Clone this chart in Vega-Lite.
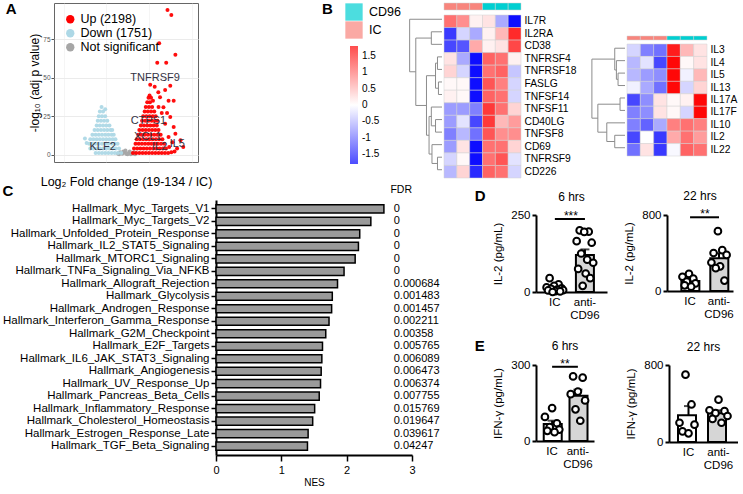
{
"$schema": "https://vega.github.io/schema/vega-lite/v6.json",
"padding": {"left": 2, "top": 1, "right": 0, "bottom": 0},
"config": {
  "font": "Liberation Sans",
  "view": {"stroke": null},
  "axis": {"labelFont": "Liberation Sans", "titleFont": "Liberation Sans", "titleFontWeight": "normal", "labelColor": "black", "titleColor": "black"},
  "legend": {"labelFont": "Liberation Sans", "labelColor": "black"},
  "title": {"font": "Liberation Sans", "color": "black"}
},
"datasets": {
  "volcano": [
    {"x":-0.45,"y":0.8,"g":"N"},{"x":-0.35,"y":1.5,"g":"N"},{"x":-0.25,"y":0.5,"g":"N"},{"x":-0.15,"y":1.2,"g":"N"},{"x":-0.05,"y":0.4,"g":"N"},{"x":0.05,"y":1.0,"g":"N"},{"x":0.15,"y":0.3,"g":"N"},{"x":0.25,"y":0.8,"g":"N"},{"x":0.35,"y":0.3,"g":"N"},{"x":-0.2,"y":2.0,"g":"N"},{"x":0.1,"y":2.0,"g":"N"},{"x":-0.4,"y":0.2,"g":"N"},{"x":0,"y":0.2,"g":"N"},{"x":0.3,"y":1.6,"g":"N"},{"x":-0.1,"y":2.6,"g":"N"},
    {"x":-1.5,"y":1,"g":"D"},{"x":-1.35,"y":1,"g":"D"},{"x":-1.2,"y":1,"g":"D"},{"x":-1.05,"y":1,"g":"D"},{"x":-0.9,"y":1,"g":"D"},{"x":-0.75,"y":1,"g":"D"},{"x":-0.6,"y":1,"g":"D"},{"x":-0.45,"y":1,"g":"D"},{"x":-0.3,"y":1,"g":"D"},
    {"x":-1.75,"y":4,"g":"D"},{"x":-1.6,"y":4,"g":"D"},{"x":-1.45,"y":4,"g":"D"},{"x":-1.3,"y":4,"g":"D"},{"x":-1.15,"y":4,"g":"D"},{"x":-1.0,"y":4,"g":"D"},{"x":-0.85,"y":4,"g":"D"},{"x":-0.7,"y":4,"g":"D"},{"x":-0.55,"y":4,"g":"D"},{"x":-0.4,"y":4,"g":"D"},
    {"x":-1.8,"y":7,"g":"D"},{"x":-1.65,"y":7,"g":"D"},{"x":-1.5,"y":7,"g":"D"},{"x":-1.35,"y":7,"g":"D"},{"x":-1.2,"y":7,"g":"D"},{"x":-1.05,"y":7,"g":"D"},{"x":-0.9,"y":7,"g":"D"},{"x":-0.75,"y":7,"g":"D"},{"x":-0.6,"y":7,"g":"D"},{"x":-0.47,"y":7,"g":"D"},
    {"x":-1.75,"y":10,"g":"D"},{"x":-1.6,"y":10,"g":"D"},{"x":-1.45,"y":10,"g":"D"},{"x":-1.3,"y":10,"g":"D"},{"x":-1.15,"y":10,"g":"D"},{"x":-1.0,"y":10,"g":"D"},{"x":-0.85,"y":10,"g":"D"},{"x":-0.7,"y":10,"g":"D"},{"x":-0.57,"y":10,"g":"D"},
    {"x":-1.65,"y":13,"g":"D"},{"x":-1.5,"y":13,"g":"D"},{"x":-1.35,"y":13,"g":"D"},{"x":-1.2,"y":13,"g":"D"},{"x":-1.05,"y":13,"g":"D"},{"x":-0.9,"y":13,"g":"D"},{"x":-0.75,"y":13,"g":"D"},{"x":-0.65,"y":13,"g":"D"},
    {"x":-1.55,"y":16,"g":"D"},{"x":-1.4,"y":16,"g":"D"},{"x":-1.25,"y":16,"g":"D"},{"x":-1.1,"y":16,"g":"D"},{"x":-0.95,"y":16,"g":"D"},{"x":-0.8,"y":16,"g":"D"},{"x":-0.72,"y":16,"g":"D"},
    {"x":-1.45,"y":19,"g":"D"},{"x":-1.3,"y":19,"g":"D"},{"x":-1.15,"y":19,"g":"D"},{"x":-1.0,"y":19,"g":"D"},{"x":-0.85,"y":19,"g":"D"},
    {"x":-1.4,"y":22,"g":"D"},{"x":-1.25,"y":22,"g":"D"},{"x":-1.1,"y":22,"g":"D"},{"x":-0.95,"y":22,"g":"D"},
    {"x":-1.35,"y":25,"g":"D"},{"x":-1.2,"y":25,"g":"D"},{"x":-1.05,"y":25,"g":"D"},
    {"x":-1.3,"y":28,"g":"D"},{"x":-1.15,"y":28,"g":"D"},{"x":-1.22,"y":31,"g":"D"},{"x":-2.0,"y":10.5,"g":"D"},{"x":-1.92,"y":7.5,"g":"D"},{"x":-1.05,"y":29.5,"g":"D"},
    {"x":0.25,"y":1,"g":"U"},{"x":0.4,"y":1,"g":"U"},{"x":0.55,"y":1,"g":"U"},{"x":0.7,"y":1,"g":"U"},{"x":0.85,"y":1,"g":"U"},{"x":1.0,"y":1,"g":"U"},{"x":1.15,"y":1,"g":"U"},{"x":1.3,"y":1,"g":"U"},{"x":1.45,"y":1,"g":"U"},{"x":1.6,"y":1,"g":"U"},{"x":1.75,"y":1,"g":"U"},{"x":1.9,"y":1,"g":"U"},{"x":2.05,"y":1.5,"g":"U"},
    {"x":0.3,"y":4,"g":"U"},{"x":0.45,"y":4,"g":"U"},{"x":0.6,"y":4,"g":"U"},{"x":0.75,"y":4,"g":"U"},{"x":0.9,"y":4,"g":"U"},{"x":1.05,"y":4,"g":"U"},{"x":1.2,"y":4,"g":"U"},{"x":1.35,"y":4,"g":"U"},{"x":1.5,"y":4,"g":"U"},{"x":1.65,"y":4,"g":"U"},{"x":1.8,"y":4,"g":"U"},
    {"x":0.37,"y":7,"g":"U"},{"x":0.52,"y":7,"g":"U"},{"x":0.67,"y":7,"g":"U"},{"x":0.82,"y":7,"g":"U"},{"x":0.97,"y":7,"g":"U"},{"x":1.12,"y":7,"g":"U"},{"x":1.27,"y":7,"g":"U"},{"x":1.42,"y":7,"g":"U"},{"x":1.57,"y":7,"g":"U"},{"x":1.72,"y":7,"g":"U"},
    {"x":0.43,"y":10,"g":"U"},{"x":0.58,"y":10,"g":"U"},{"x":0.73,"y":10,"g":"U"},{"x":0.88,"y":10,"g":"U"},{"x":1.03,"y":10,"g":"U"},{"x":1.18,"y":10,"g":"U"},{"x":1.33,"y":10,"g":"U"},{"x":1.48,"y":10,"g":"U"},{"x":1.63,"y":10,"g":"U"},
    {"x":0.5,"y":13,"g":"U"},{"x":0.65,"y":13,"g":"U"},{"x":0.8,"y":13,"g":"U"},{"x":0.95,"y":13,"g":"U"},{"x":1.1,"y":13,"g":"U"},{"x":1.25,"y":13,"g":"U"},{"x":1.4,"y":13,"g":"U"},{"x":1.55,"y":13,"g":"U"},
    {"x":0.55,"y":16,"g":"U"},{"x":0.7,"y":16,"g":"U"},{"x":0.85,"y":16,"g":"U"},{"x":1.0,"y":16,"g":"U"},{"x":1.15,"y":16,"g":"U"},{"x":1.3,"y":16,"g":"U"},{"x":1.45,"y":16,"g":"U"},
    {"x":0.62,"y":19,"g":"U"},{"x":0.77,"y":19,"g":"U"},{"x":0.92,"y":19,"g":"U"},{"x":1.07,"y":19,"g":"U"},{"x":1.22,"y":19,"g":"U"},{"x":1.37,"y":19,"g":"U"},
    {"x":0.68,"y":22,"g":"U"},{"x":0.83,"y":22,"g":"U"},{"x":0.98,"y":22,"g":"U"},{"x":1.13,"y":22,"g":"U"},{"x":1.28,"y":22,"g":"U"},{"x":1.4,"y":22,"g":"U"},
    {"x":0.73,"y":25,"g":"U"},{"x":0.88,"y":25,"g":"U"},{"x":1.03,"y":25,"g":"U"},{"x":1.18,"y":25,"g":"U"},{"x":1.32,"y":25,"g":"U"},
    {"x":0.8,"y":28,"g":"U"},{"x":0.95,"y":28,"g":"U"},{"x":1.1,"y":28,"g":"U"},{"x":1.25,"y":28,"g":"U"},
    {"x":0.85,"y":31,"g":"U"},{"x":1.0,"y":31,"g":"U"},{"x":1.15,"y":31,"g":"U"},{"x":0.92,"y":34,"g":"U"},{"x":1.05,"y":34,"g":"U"},{"x":0.98,"y":37,"g":"U"},{"x":1.1,"y":37,"g":"U"},
    {"x":1.87,"y":94,"g":"U"},{"x":2.05,"y":90.8,"g":"U"},{"x":1.48,"y":72.4,"g":"U"},{"x":2.24,"y":64.9,"g":"U"},{"x":1.39,"y":59.7,"g":"U"},{"x":1.81,"y":59.7,"g":"U"},{"x":1.06,"y":45.5,"g":"U"},{"x":1.27,"y":44.2,"g":"U"},{"x":2.0,"y":44.8,"g":"U"},{"x":1.76,"y":42,"g":"U"},{"x":1.44,"y":40.5,"g":"U"},{"x":1.03,"y":38.4,"g":"U"},{"x":1.52,"y":37.3,"g":"U"},{"x":1.92,"y":35,"g":"U"},{"x":2.16,"y":35,"g":"U"},{"x":1.19,"y":35,"g":"U"},{"x":1.68,"y":30.8,"g":"U"},{"x":2.0,"y":24.4,"g":"U"},{"x":1.76,"y":20,"g":"U"},{"x":2.16,"y":17.9,"g":"U"},{"x":2.24,"y":13.6,"g":"U"},{"x":1.92,"y":11.4,"g":"U"},{"x":2.48,"y":9.3,"g":"U"},{"x":2.61,"y":5,"g":"U"},{"x":2.32,"y":3.9,"g":"U"},{"x":1.6,"y":27,"g":"U"},{"x":1.85,"y":27,"g":"U"},{"x":1.45,"y":31,"g":"U"},{"x":2.1,"y":8,"g":"U"},{"x":1.95,"y":5,"g":"U"},{"x":2.2,"y":2,"g":"U"}
  ],
  "vlabels": [{"x":1.29,"y":50,"t":"TNFRSF9"},{"x":0.98,"y":22,"t":"CTPS1"},{"x":0.95,"y":11.7,"t":"XCL1"},{"x":1.5,"y":4.8,"t":"IL2"},{"x":2.33,"y":6.9,"t":"IL5"},{"x":-1.17,"y":4.8,"t":"KLF2"}],
  "samples": [{"s":"IC1","grp":"IC"},{"s":"IC2","grp":"IC"},{"s":"IC3","grp":"IC"},{"s":"CD1","grp":"CD96"},{"s":"CD2","grp":"CD96"},{"s":"CD3","grp":"CD96"}],
  "heat1": [
    {"gene":"IL7R","IC1":1.0,"IC2":0.8,"IC3":0.1,"CD1":0.2,"CD2":-0.6,"CD3":-1.7},
    {"gene":"IL2RA","IC1":-1.4,"IC2":-0.3,"IC3":-0.6,"CD1":0.1,"CD2":0.5,"CD3":1.5},
    {"gene":"CD38","IC1":-1.3,"IC2":-1.2,"IC3":0.6,"CD1":0.1,"CD2":0.2,"CD3":1.3},
    {"gene":"TNFRSF4","IC1":0.2,"IC2":-0.6,"IC3":-1.7,"CD1":1.1,"CD2":1.0,"CD3":0.1},
    {"gene":"TNFRSF18","IC1":0.3,"IC2":-0.3,"IC3":-1.7,"CD1":1.0,"CD2":1.1,"CD3":-0.4},
    {"gene":"FASLG","IC1":0.05,"IC2":0.05,"IC3":-1.7,"CD1":1.2,"CD2":0.9,"CD3":-0.3},
    {"gene":"TNFSF14","IC1":0.1,"IC2":0.05,"IC3":-1.7,"CD1":1.1,"CD2":1.0,"CD3":-0.3},
    {"gene":"TNFSF11","IC1":-0.7,"IC2":-0.7,"IC3":-0.9,"CD1":1.4,"CD2":1.0,"CD3":0.3},
    {"gene":"CD40LG","IC1":-0.7,"IC2":-0.2,"IC3":-1.3,"CD1":1.4,"CD2":0.5,"CD3":0.7},
    {"gene":"TNFSF8","IC1":-0.9,"IC2":-0.5,"IC3":-1.0,"CD1":1.2,"CD2":0.8,"CD3":0.8},
    {"gene":"CD69","IC1":-0.7,"IC2":0.2,"IC3":-1.7,"CD1":1.0,"CD2":1.0,"CD3":0.3},
    {"gene":"TNFRSF9","IC1":-0.3,"IC2":0.05,"IC3":-1.7,"CD1":1.0,"CD2":1.2,"CD3":-0.2},
    {"gene":"CD226","IC1":-0.5,"IC2":0.3,"IC3":-1.5,"CD1":1.1,"CD2":1.0,"CD3":-0.3}
  ],
  "heat2": [
    {"gene":"IL3","IC1":-0.3,"IC2":-0.9,"IC3":-1.0,"CD1":1.6,"CD2":0.5,"CD3":0.2},
    {"gene":"IL4","IC1":-0.5,"IC2":-0.2,"IC3":-1.3,"CD1":1.75,"CD2":0.05,"CD3":0.2},
    {"gene":"IL5","IC1":-0.5,"IC2":-0.7,"IC3":-0.8,"CD1":1.75,"CD2":-0.1,"CD3":0.5},
    {"gene":"IL13","IC1":-0.1,"IC2":-0.6,"IC3":-1.0,"CD1":1.75,"CD2":-0.3,"CD3":0.3},
    {"gene":"IL17A","IC1":-1.3,"IC2":-0.8,"IC3":0.2,"CD1":0.05,"CD2":0.1,"CD3":1.75},
    {"gene":"IL17F","IC1":-0.9,"IC2":-0.8,"IC3":0.2,"CD1":0.05,"CD2":-0.3,"CD3":1.75},
    {"gene":"IL10","IC1":-0.9,"IC2":-1.1,"IC3":-0.6,"CD1":0.9,"CD2":1.0,"CD3":0.9},
    {"gene":"IL2","IC1":-1.3,"IC2":0.0,"IC3":-1.4,"CD1":0.6,"CD2":1.0,"CD3":0.7},
    {"gene":"IL22","IC1":-1.0,"IC2":0.2,"IC3":-1.4,"CD1":-0.05,"CD2":1.1,"CD3":1.0}
  ],
  "tree1": [
    {"h":1.4,"p1":3,"p2":4,"h1":0,"h2":0},
    {"h":1.1,"p1":5,"p2":6,"h1":0,"h2":0},
    {"h":2.0,"p1":3.5,"p2":5.5,"h1":1.4,"h2":1.1},
    {"h":2.0,"p1":8,"p2":9,"h1":0,"h2":0},
    {"h":3.3,"p1":7,"p2":8.5,"h1":0,"h2":2.0},
    {"h":1.4,"p1":11,"p2":12,"h1":0,"h2":0},
    {"h":3.1,"p1":10,"p2":11.5,"h1":0,"h2":1.4},
    {"h":4.0,"p1":7.75,"p2":10.75,"h1":3.3,"h2":3.1},
    {"h":4.8,"p1":4.5,"p2":9.25,"h1":2.0,"h2":4.0},
    {"h":3.3,"p1":1,"p2":2,"h1":0,"h2":0},
    {"h":8.1,"p1":1.5,"p2":6.875,"h1":3.3,"h2":4.8},
    {"h":10,"p1":0,"p2":4.1875,"h1":0,"h2":8.1}
  ],
  "tree2": [
    {"h":2.1,"p1":2,"p2":3,"h1":0,"h2":0},
    {"h":2.6,"p1":1,"p2":2.5,"h1":0,"h2":2.1},
    {"h":3.1,"p1":0,"p2":1.75,"h1":0,"h2":2.6},
    {"h":1.5,"p1":4,"p2":5,"h1":0,"h2":0},
    {"h":3.1,"p1":7,"p2":8,"h1":0,"h2":0},
    {"h":5.5,"p1":6,"p2":7.5,"h1":0,"h2":3.1},
    {"h":8.2,"p1":4.5,"p2":6.75,"h1":1.5,"h2":5.5},
    {"h":10,"p1":0.875,"p2":5.625,"h1":3.1,"h2":8.2}
  ],
  "gsea": [
    {"term":"Hallmark_Myc_Targets_V1","nes":2.57,"fdr":"0"},
    {"term":"Hallmark_Myc_Targets_V2","nes":2.37,"fdr":"0"},
    {"term":"Hallmark_Unfolded_Protein_Response","nes":2.20,"fdr":"0"},
    {"term":"Hallmark_IL2_STAT5_Signaling","nes":2.18,"fdr":"0"},
    {"term":"Hallmark_MTORC1_Signaling","nes":2.13,"fdr":"0"},
    {"term":"Hallmark_TNFa_Signaling_Via_NFKB","nes":1.96,"fdr":"0"},
    {"term":"Hallmark_Allograft_Rejection","nes":1.86,"fdr":"0.000684"},
    {"term":"Hallmark_Glycolysis","nes":1.78,"fdr":"0.001483"},
    {"term":"Hallmark_Androgen_Response","nes":1.77,"fdr":"0.001457"},
    {"term":"Hallmark_Interferon_Gamma_Response","nes":1.73,"fdr":"0.002211"},
    {"term":"Hallmark_G2M_Checkpoint","nes":1.68,"fdr":"0.00358"},
    {"term":"Hallmark_E2F_Targets","nes":1.63,"fdr":"0.005765"},
    {"term":"Hallmark_IL6_JAK_STAT3_Signaling","nes":1.62,"fdr":"0.006089"},
    {"term":"Hallmark_Angiogenesis","nes":1.61,"fdr":"0.006473"},
    {"term":"Hallmark_UV_Response_Up","nes":1.60,"fdr":"0.006374"},
    {"term":"Hallmark_Pancreas_Beta_Cells","nes":1.58,"fdr":"0.007755"},
    {"term":"Hallmark_Inflammatory_Response","nes":1.51,"fdr":"0.015769"},
    {"term":"Hallmark_Cholesterol_Homeostasis","nes":1.48,"fdr":"0.019647"},
    {"term":"Hallmark_Estrogen_Response_Late","nes":1.41,"fdr":"0.039617"},
    {"term":"Hallmark_TGF_Beta_Signaling","nes":1.40,"fdr":"0.04247"}
  ],
  "sig": [{"a":"IC","b":"anti-CD96"}],
  "d1": [
    {"grp":"IC","v":45,"r":3},{"grp":"IC","v":25,"r":9},{"grp":"IC","v":20,"r":6},{"grp":"IC","v":15,"r":1},{"grp":"IC","v":12,"r":11},{"grp":"IC","v":10,"r":4},{"grp":"IC","v":8,"r":8},{"grp":"IC","v":6,"r":12},{"grp":"IC","v":5,"r":2},{"grp":"IC","v":3,"r":7},{"grp":"IC","v":2,"r":10},{"grp":"IC","v":0,"r":5},
    {"grp":"anti-CD96","v":200,"r":3},{"grp":"anti-CD96","v":196,"r":9},{"grp":"anti-CD96","v":195,"r":6},{"grp":"anti-CD96","v":165,"r":1},{"grp":"anti-CD96","v":160,"r":11},{"grp":"anti-CD96","v":125,"r":4},{"grp":"anti-CD96","v":105,"r":8},{"grp":"anti-CD96","v":95,"r":12},{"grp":"anti-CD96","v":75,"r":2},{"grp":"anti-CD96","v":60,"r":7},{"grp":"anti-CD96","v":45,"r":10},{"grp":"anti-CD96","v":20,"r":5}
  ],
  "d2": [
    {"grp":"IC","v":180,"r":4},{"grp":"IC","v":150,"r":1},{"grp":"IC","v":130,"r":6},{"grp":"IC","v":100,"r":3},{"grp":"IC","v":80,"r":7},{"grp":"IC","v":60,"r":2},{"grp":"IC","v":45,"r":5},
    {"grp":"anti-CD96","v":630,"r":4},{"grp":"anti-CD96","v":430,"r":6},{"grp":"anti-CD96","v":400,"r":2},{"grp":"anti-CD96","v":380,"r":8},{"grp":"anti-CD96","v":300,"r":1},{"grp":"anti-CD96","v":260,"r":5},{"grp":"anti-CD96","v":240,"r":3},{"grp":"anti-CD96","v":110,"r":7}
  ],
  "e1": [
    {"grp":"IC","v":130,"r":4},{"grp":"IC","v":95,"r":1},{"grp":"IC","v":70,"r":6},{"grp":"IC","v":55,"r":3},{"grp":"IC","v":45,"r":7},{"grp":"IC","v":40,"r":2},{"grp":"IC","v":35,"r":5},
    {"grp":"anti-CD96","v":255,"r":2},{"grp":"anti-CD96","v":250,"r":6},{"grp":"anti-CD96","v":195,"r":4},{"grp":"anti-CD96","v":185,"r":1},{"grp":"anti-CD96","v":160,"r":7},{"grp":"anti-CD96","v":125,"r":3},{"grp":"anti-CD96","v":80,"r":5}
  ],
  "e2": [
    {"grp":"IC","v":700,"r":3},{"grp":"IC","v":390,"r":5},{"grp":"IC","v":200,"r":1},{"grp":"IC","v":180,"r":6},{"grp":"IC","v":110,"r":2},{"grp":"IC","v":90,"r":4},
    {"grp":"anti-CD96","v":440,"r":4},{"grp":"anti-CD96","v":330,"r":1},{"grp":"anti-CD96","v":320,"r":6},{"grp":"anti-CD96","v":300,"r":3},{"grp":"anti-CD96","v":270,"r":7},{"grp":"anti-CD96","v":240,"r":2},{"grp":"anti-CD96","v":200,"r":5}
  ]
},
"resolve": {"scale": {"color": "independent", "fill": "independent", "xOffset": "independent"}, "legend": {"color": "independent", "fill": "independent"}},
"spacing": -5,
"vconcat": [
 {
  "hconcat": [
   {
    "width": 144, "height": 159,
    "view": {"stroke": "#666666", "strokeWidth": 1},
    "title": {"text": "A", "anchor": "start", "frame": "bounds", "fontSize": 15, "fontWeight": "bold", "offset": -14, "dx": -23},
    "layer": [
     {
      "data": {"name": "volcano"},
      "mark": {"type": "circle", "size": 16, "opacity": 0.95},
      "encoding": {
        "x": {"field": "x", "type": "quantitative", "scale": {"domain": [-3.45, 3.3], "nice": false, "zero": false},
              "axis": {"values": [-3,-2,-1,0,1,2,3], "labelExpr": "datum.value == -2 ? '-2' : datum.value == 0 ? '0' : datum.value == 2 ? '2' : ''", "labelOverlap": false, "labelFlush": false, "labels": true, "title": "Log₂ Fold change (19-134 / IC)", "titleFontSize": 12.5, "labelFontSize": 7, "labelColor": "#555555", "tickSize": 3, "tickColor": {"condition": {"test": "datum.value % 2 != 0", "value": "transparent"}, "value": "#555555"}, "domain": false, "gridColor": "#ebebeb", "gridWidth": {"condition": {"test": "datum.value % 2 != 0", "value": 0.5}, "value": 1}, "labelPadding": 1, "titlePadding": 2}},
        "y": {"field": "y", "type": "quantitative", "scale": {"domain": [-4.8, 98.6], "nice": false, "zero": false},
              "axis": {"values": [0,12.5,25,37.5,50,62.5,75,87.5], "labelExpr": "datum.value == 0 ? '0' : datum.value == 25 ? '25' : datum.value == 50 ? '50' : datum.value == 75 ? '75' : ''", "labelOverlap": false, "labelFlush": false, "labels": true, "title": "-log₁₀ (adj p value)", "titleFontSize": 12, "labelFontSize": 6.5, "labelColor": "#555555", "tickSize": 3, "tickColor": {"condition": {"test": "datum.value % 25 != 0", "value": "transparent"}, "value": "#555555"}, "domain": false, "gridColor": "#ebebeb", "gridWidth": {"condition": {"test": "datum.value % 25 != 0", "value": 0.5}, "value": 1}, "labelPadding": 1, "titlePadding": 1}},
        "color": {"field": "g", "type": "nominal", "scale": {"domain": ["U","D","N"], "range": ["#ff0000", "#add8e6", "#a6a6a6"]},
                  "legend": {"title": null, "orient": "top-left", "offset": 10, "padding": 0, "symbolType": "circle", "symbolSize": 70, "symbolOpacity": 1, "labelFontSize": 12.5, "rowPadding": 1, "labelOffset": 4, "labelExpr": "datum.label == 'U' ? 'Up (2198)' : datum.label == 'D' ? 'Down (1751)' : 'Not significant'"}}
      }
     },
     {
      "data": {"name": "vlabels"},
      "mark": {"type": "text", "fontSize": 11, "color": "#333344"},
      "encoding": {"x": {"field": "x", "type": "quantitative"}, "y": {"field": "y", "type": "quantitative"}, "text": {"field": "t"}}
     }
    ]
   },
   {
    "width": 196, "height": 173,
    "title": {"text": "B", "anchor": "start", "frame": "group", "fontSize": 15, "fontWeight": "bold", "offset": -14, "dx": 109},
    "layer": [
     {
      "data": {"values": [{"grp": "CD96"}]}, "transform": [{"filter": "false"}],
      "mark": "square",
      "encoding": {"fill": {"field": "grp", "type": "nominal", "scale": {"domain": ["CD96","IC"], "range": ["#00cfd1", "#f8857d"]},
        "legend": {"orient": "none", "legendX": 132, "legendY": 0, "title": null, "symbolType": "square", "symbolSize": 300, "symbolStrokeWidth": 0, "labelFontSize": 12.5, "rowPadding": 0, "labelOffset": 6, "padding": 0}}}
     },
     {
      "data": {"values": [{"z": 0}]}, "transform": [{"filter": "false"}],
      "mark": "square",
      "encoding": {"color": {"field": "z", "type": "quantitative", "scale": {"domain": [-1.8, 0, 1.8], "range": ["#0000ff", "#ffffff", "#ff0000"], "interpolate": "rgb"},
        "legend": {"orient": "none", "legendX": 137, "legendY": 43, "title": null, "direction": "vertical", "gradientLength": 118, "gradientThickness": 8, "gradientStrokeWidth": 0, "values": [-1.5,-1,-0.5,0,0.5,1,1.5], "labelExpr": "'' + datum.value", "labelFontSize": 10, "labelOffset": 4, "padding": 0}}}
     }
    ]
   },
   {
    "hconcat": [
     {
      "width": 33, "height": 173,
      "data": {"name": "tree1"},
      "layer": [
       {"mark": {"type": "rule", "color": "#8c8c8c", "strokeWidth": 1},
        "encoding": {"x": {"field": "h", "type": "quantitative", "scale": {"domain": [0, 10.2], "reverse": true, "nice": false}, "axis": null},
                     "y": {"field": "p1", "type": "quantitative", "scale": {"domain": [-1.297, 12.5], "reverse": true, "nice": false, "zero": false}, "axis": null},
                     "y2": {"field": "p2"}}},
       {"mark": {"type": "rule", "color": "#8c8c8c", "strokeWidth": 1},
        "encoding": {"x": {"field": "h1", "type": "quantitative", "scale": {"domain": [0, 10.2], "reverse": true, "nice": false}, "axis": null}, "x2": {"field": "h"},
                     "y": {"field": "p1", "type": "quantitative", "scale": {"domain": [-1.297, 12.5], "reverse": true, "nice": false, "zero": false}, "axis": null}}},
       {"mark": {"type": "rule", "color": "#8c8c8c", "strokeWidth": 1},
        "encoding": {"x": {"field": "h2", "type": "quantitative", "scale": {"domain": [0, 10.2], "reverse": true, "nice": false}, "axis": null}, "x2": {"field": "h"},
                     "y": {"field": "p2", "type": "quantitative", "scale": {"domain": [-1.297, 12.5], "reverse": true, "nice": false, "zero": false}, "axis": null}}}
      ]
     },
     {
      "vconcat": [
       {
        "width": 77, "height": 7,
        "data": {"name": "samples"},
        "mark": {"type": "rect", "stroke": "#d0d0d0", "strokeWidth": 0.5},
        "encoding": {
          "x": {"field": "s", "type": "nominal", "sort": ["IC1","IC2","IC3","CD1","CD2","CD3"], "scale": {"paddingInner": 0, "paddingOuter": 0}, "axis": null},
          "fill": {"field": "grp", "type": "nominal", "scale": {"domain": ["CD96","IC"], "range": ["#00cfd1", "#f8857d"]}, "legend": null}
        }
       },
       {
        "width": 77, "height": 163,
        "data": {"name": "heat1"},
        "transform": [{"fold": ["IC1","IC2","IC3","CD1","CD2","CD3"], "as": ["s", "z"]}],
        "mark": {"type": "rect", "stroke": "#d0d0d0", "strokeWidth": 0.5},
        "encoding": {
          "x": {"field": "s", "type": "nominal", "sort": ["IC1","IC2","IC3","CD1","CD2","CD3"], "scale": {"paddingInner": 0, "paddingOuter": 0}, "axis": null},
          "y": {"field": "gene", "type": "nominal", "sort": null, "scale": {"paddingInner": 0, "paddingOuter": 0}, "axis": {"orient": "right", "title": null, "domain": false, "ticks": false, "labelFontSize": 10.3, "labelPadding": 3}},
          "color": {"field": "z", "type": "quantitative", "scale": {"domain": [-1.8, 0, 1.8], "range": ["#0000ff", "#ffffff", "#ff0000"], "interpolate": "rgb", "clamp": true}, "legend": null}
        }
       }
      ],
      "spacing": 3,
      "resolve": {"scale": {"color": "independent", "fill": "independent"}, "legend": {"color": "independent", "fill": "independent"}}
     }
    ],
    "spacing": 0,
    "resolve": {"scale": {"color": "independent", "fill": "independent"}, "legend": {"color": "independent", "fill": "independent"}}
   },
   {
    "vconcat": [
     {"width": 1, "height": 32, "data": {"values": [{}]}, "mark": {"type": "rect", "opacity": 0}, "encoding": {}},
     {
      "hconcat": [
       {
        "width": 48, "height": 118,
        "data": {"name": "tree2"},
        "layer": [
         {"mark": {"type": "rule", "color": "#8c8c8c", "strokeWidth": 1},
          "encoding": {"x": {"field": "h", "type": "quantitative", "scale": {"domain": [0, 14.5], "reverse": true, "nice": false}, "axis": null},
                       "y": {"field": "p1", "type": "quantitative", "scale": {"domain": [-0.982, 8.504], "reverse": true, "nice": false, "zero": false}, "axis": null},
                       "y2": {"field": "p2"}}},
         {"mark": {"type": "rule", "color": "#8c8c8c", "strokeWidth": 1},
          "encoding": {"x": {"field": "h1", "type": "quantitative", "scale": {"domain": [0, 14.5], "reverse": true, "nice": false}, "axis": null}, "x2": {"field": "h"},
                       "y": {"field": "p1", "type": "quantitative", "scale": {"domain": [-0.982, 8.504], "reverse": true, "nice": false, "zero": false}, "axis": null}}},
         {"mark": {"type": "rule", "color": "#8c8c8c", "strokeWidth": 1},
          "encoding": {"x": {"field": "h2", "type": "quantitative", "scale": {"domain": [0, 14.5], "reverse": true, "nice": false}, "axis": null}, "x2": {"field": "h"},
                       "y": {"field": "p2", "type": "quantitative", "scale": {"domain": [-0.982, 8.504], "reverse": true, "nice": false, "zero": false}, "axis": null}}}
        ]
       },
       {
        "vconcat": [
         {
          "width": 80, "height": 4,
          "data": {"name": "samples"},
          "mark": {"type": "rect", "stroke": "#d0d0d0", "strokeWidth": 0.5},
          "encoding": {
            "x": {"field": "s", "type": "nominal", "sort": ["IC1","IC2","IC3","CD1","CD2","CD3"], "scale": {"paddingInner": 0, "paddingOuter": 0}, "axis": null},
            "fill": {"field": "grp", "type": "nominal", "scale": {"domain": ["CD96","IC"], "range": ["#00cfd1", "#f8857d"]}, "legend": null}
          }
         },
         {
          "width": 80, "height": 112,
          "data": {"name": "heat2"},
          "transform": [{"fold": ["IC1","IC2","IC3","CD1","CD2","CD3"], "as": ["s", "z"]}],
          "mark": {"type": "rect", "stroke": "#d0d0d0", "strokeWidth": 0.5},
          "encoding": {
            "x": {"field": "s", "type": "nominal", "sort": ["IC1","IC2","IC3","CD1","CD2","CD3"], "scale": {"paddingInner": 0, "paddingOuter": 0}, "axis": null},
            "y": {"field": "gene", "type": "nominal", "sort": null, "scale": {"paddingInner": 0, "paddingOuter": 0}, "axis": {"orient": "right", "title": null, "domain": false, "ticks": false, "labelFontSize": 10.3, "labelPadding": 3}},
            "color": {"field": "z", "type": "quantitative", "scale": {"domain": [-1.8, 0, 1.8], "range": ["#0000ff", "#ffffff", "#ff0000"], "interpolate": "rgb", "clamp": true}, "legend": null}
          }
         }
        ],
        "spacing": 2,
        "resolve": {"scale": {"color": "independent", "fill": "independent"}, "legend": {"color": "independent", "fill": "independent"}}
       }
      ],
      "spacing": 0,
      "resolve": {"scale": {"color": "independent", "fill": "independent"}, "legend": {"color": "independent", "fill": "independent"}}
     }
    ],
    "spacing": 0,
    "resolve": {"scale": {"color": "independent", "fill": "independent"}, "legend": {"color": "independent", "fill": "independent"}}
   }
  ],
  "spacing": 0,
  "resolve": {"scale": {"color": "independent", "fill": "independent"}, "legend": {"color": "independent", "fill": "independent"}}
 },
 {
  "title": {"text": "C", "anchor": "start", "frame": "bounds", "fontSize": 15, "fontWeight": "bold", "offset": -14},
  "hconcat": [
   {"width": 1, "height": 1, "data": {"values": [{}]}, "mark": {"type": "rect", "opacity": 0}, "encoding": {}},
   {
    "hconcat": [
     {
      "width": 196, "height": 255,
      "title": {"text": "FDR", "anchor": "end", "frame": "group", "fontSize": 10.5, "fontWeight": "normal", "offset": 5},
      "data": {"name": "gsea"},
      "encoding": {"y": {"field": "term", "type": "nominal", "sort": null, "scale": {"paddingInner": 0.35, "paddingOuter": 0.39},
        "axis": {"title": null, "labelFontSize": 11.5, "labelLimit": 300, "tickSize": 5, "tickWidth": 1.5, "tickColor": "black", "domainColor": "black", "domainWidth": 2, "labelPadding": 2}}},
      "layer": [
       {"mark": {"type": "bar", "fill": "#9a9a9a", "stroke": "black", "strokeWidth": 1.5},
        "encoding": {"x": {"field": "nes", "type": "quantitative", "scale": {"domain": [0, 3], "nice": false},
          "axis": {"values": [0,1,2,3], "format": "d", "title": "NES", "titleFontSize": 10, "labelFontSize": 11, "tickSize": 6, "tickWidth": 1.5, "tickColor": "black", "domainColor": "black", "domainWidth": 2, "grid": false, "labelPadding": 3, "titlePadding": 2, "labelFlush": false}}}},
       {"mark": {"type": "text", "align": "left", "fontSize": 11, "baseline": "middle"},
        "encoding": {"x": {"datum": 2.72}, "text": {"field": "fdr"}}}
      ]
     },
     {
      "vconcat": [
       {"width": 1, "height": 1, "data": {"values": [{}]}, "mark": {"type": "rect", "opacity": 0}, "encoding": {}},
       {
        "vconcat": [
         {
          "title": {"text": "D", "anchor": "start", "frame": "bounds", "fontSize": 15, "fontWeight": "bold", "offset": -14, "dx": -18},
          "hconcat": [
           {
            "width": 71, "height": 77,
            "title": {"text": "6 hrs", "fontSize": 12, "fontWeight": "normal", "offset": 5},
            "data": {"name": "d1"},
            "encoding": {"x": {"field": "grp", "type": "nominal", "sort": ["IC","anti-CD96"], "scale": {"domain": ["IC","anti-CD96"], "paddingInner": 0.4, "paddingOuter": 0.38, "align": 0.43},
              "axis": {"title": null, "labelAngle": 0, "labelFontSize": 11.5, "domainWidth": 2, "domainColor": "black", "ticks": false, "labelPadding": 4, "labelLineHeight": 13, "labelExpr": "datum.value == 'anti-CD96' ? ['anti-', 'CD96'] : datum.value"}}},
            "layer": [
             {"mark": {"type": "errorbar", "extent": "stderr", "color": "black", "thickness": 2, "ticks": true, "size": 9},
              "encoding": {"y": {"field": "v", "type": "quantitative", "title": "IL-2 (pg/mL)", "scale": {"domain": [0, 250], "nice": false},
                "axis": {"values": [0,50,100,150,200,250], "domainWidth": 2, "domainColor": "black", "tickWidth": 2, "tickColor": "black", "tickSize": 4, "labelFontSize": 11.5, "labelPadding": 2, "titleFontSize": 11.5, "titlePadding": 7, "grid": false, "labelFlush": false}}}},
             {"mark": {"type": "bar", "stroke": "black", "strokeWidth": 2},
              "encoding": {"y": {"aggregate": "mean", "field": "v", "type": "quantitative", "title": "IL-2 (pg/mL)"},
                "fill": {"field": "grp", "type": "nominal", "scale": {"domain": ["IC","anti-CD96"], "range": ["#ffffff", "#d6d6d6"]}, "legend": null}}},
             {"mark": {"type": "point", "shape": "circle", "filled": true, "fill": "#ffffff", "stroke": "black", "strokeWidth": 2, "size": 45, "opacity": 1},
              "encoding": {"y": {"field": "v", "type": "quantitative", "title": "IL-2 (pg/mL)"}, "xOffset": {"field": "r", "type": "nominal"}}},
             {"data": {"name": "sig"}, "mark": {"type": "rule", "strokeWidth": 2, "color": "black"},
              "encoding": {"x": {"field": "a", "type": "nominal"}, "x2": {"field": "b"}, "y": {"datum": 237}}},
             {"data": {"name": "sig"}, "mark": {"type": "text", "fontSize": 12, "baseline": "alphabetic", "dy": 1, "dx": -14, "text": "***"},
              "encoding": {"x": {"field": "b", "type": "nominal"}, "y": {"datum": 237}}}
            ]
           },
           {
            "width": 66, "height": 76,
            "title": {"text": "22 hrs", "fontSize": 12, "fontWeight": "normal", "offset": 5},
            "data": {"name": "d2"},
            "encoding": {"x": {"field": "grp", "type": "nominal", "sort": ["IC","anti-CD96"], "scale": {"domain": ["IC","anti-CD96"], "paddingInner": 0.4, "paddingOuter": 0.34, "align": 0.73},
              "axis": {"title": null, "labelAngle": 0, "labelFontSize": 11.5, "domainWidth": 2, "domainColor": "black", "ticks": false, "labelPadding": 4, "labelLineHeight": 13, "labelExpr": "datum.value == 'anti-CD96' ? ['anti-', 'CD96'] : datum.value"}}},
            "layer": [
             {"mark": {"type": "errorbar", "extent": "stderr", "color": "black", "thickness": 2, "ticks": true, "size": 9},
              "encoding": {"y": {"field": "v", "type": "quantitative", "title": "IL-2 (pg/mL)", "scale": {"domain": [0, 800], "nice": false},
                "axis": {"values": [0,200,400,600,800], "domainWidth": 2, "domainColor": "black", "tickWidth": 2, "tickColor": "black", "tickSize": 4, "labelFontSize": 11.5, "labelPadding": 2, "titleFontSize": 11.5, "titlePadding": 7, "grid": false, "labelFlush": false}}}},
             {"mark": {"type": "bar", "stroke": "black", "strokeWidth": 2},
              "encoding": {"y": {"aggregate": "mean", "field": "v", "type": "quantitative", "title": "IL-2 (pg/mL)"},
                "fill": {"field": "grp", "type": "nominal", "scale": {"domain": ["IC","anti-CD96"], "range": ["#ffffff", "#d6d6d6"]}, "legend": null}}},
             {"mark": {"type": "point", "shape": "circle", "filled": true, "fill": "#ffffff", "stroke": "black", "strokeWidth": 2, "size": 45, "opacity": 1},
              "encoding": {"y": {"field": "v", "type": "quantitative", "title": "IL-2 (pg/mL)"}, "xOffset": {"field": "r", "type": "nominal"}}},
             {"data": {"name": "sig"}, "mark": {"type": "rule", "strokeWidth": 2, "color": "black"},
              "encoding": {"x": {"field": "a", "type": "nominal"}, "x2": {"field": "b"}, "y": {"datum": 776}}},
             {"data": {"name": "sig"}, "mark": {"type": "text", "fontSize": 12, "baseline": "alphabetic", "dy": 1, "dx": -14, "text": "**"},
              "encoding": {"x": {"field": "b", "type": "nominal"}, "y": {"datum": 776}}}
            ]
           }
          ],
          "spacing": 16,
          "resolve": {"scale": {"color": "independent", "fill": "independent", "xOffset": "independent"}, "legend": {"color": "independent", "fill": "independent"}}
         },
         {
          "title": {"text": "E", "anchor": "start", "frame": "bounds", "fontSize": 15, "fontWeight": "bold", "offset": -14, "dx": -18},
          "hconcat": [
           {
            "width": 58, "height": 76,
            "title": {"text": "6 hrs", "fontSize": 12, "fontWeight": "normal", "offset": 5},
            "data": {"name": "e1"},
            "encoding": {"x": {"field": "grp", "type": "nominal", "sort": ["IC","anti-CD96"], "scale": {"domain": ["IC","anti-CD96"], "paddingInner": 0.35, "paddingOuter": 0.3, "align": 0.5},
              "axis": {"title": null, "labelAngle": 0, "labelFontSize": 11.5, "domainWidth": 2, "domainColor": "black", "ticks": false, "labelPadding": 4, "labelLineHeight": 13, "labelExpr": "datum.value == 'anti-CD96' ? ['anti-', 'CD96'] : datum.value"}}},
            "layer": [
             {"mark": {"type": "errorbar", "extent": "stderr", "color": "black", "thickness": 2, "ticks": true, "size": 9},
              "encoding": {"y": {"field": "v", "type": "quantitative", "title": "IFN-γ (pg/mL)", "scale": {"domain": [0, 300], "nice": false},
                "axis": {"values": [0,100,200,300], "domainWidth": 2, "domainColor": "black", "tickWidth": 2, "tickColor": "black", "tickSize": 4, "labelFontSize": 11.5, "labelPadding": 2, "titleFontSize": 11.5, "titlePadding": 7, "grid": false, "labelFlush": false}}}},
             {"mark": {"type": "bar", "stroke": "black", "strokeWidth": 2},
              "encoding": {"y": {"aggregate": "mean", "field": "v", "type": "quantitative", "title": "IFN-γ (pg/mL)"},
                "fill": {"field": "grp", "type": "nominal", "scale": {"domain": ["IC","anti-CD96"], "range": ["#ffffff", "#d6d6d6"]}, "legend": null}}},
             {"mark": {"type": "point", "shape": "circle", "filled": true, "fill": "#ffffff", "stroke": "black", "strokeWidth": 2, "size": 45, "opacity": 1},
              "encoding": {"y": {"field": "v", "type": "quantitative", "title": "IFN-γ (pg/mL)"}, "xOffset": {"field": "r", "type": "nominal"}}},
             {"data": {"name": "sig"}, "mark": {"type": "rule", "strokeWidth": 2, "color": "black"},
              "encoding": {"x": {"field": "a", "type": "nominal"}, "x2": {"field": "b"}, "y": {"datum": 293}}},
             {"data": {"name": "sig"}, "mark": {"type": "text", "fontSize": 12, "baseline": "alphabetic", "dy": 1, "dx": -13, "text": "**"},
              "encoding": {"x": {"field": "b", "type": "nominal"}, "y": {"datum": 293}}}
            ]
           },
           {
            "width": 69, "height": 77,
            "title": {"text": "22 hrs", "fontSize": 12, "fontWeight": "normal", "offset": 5},
            "data": {"name": "e2"},
            "encoding": {"x": {"field": "grp", "type": "nominal", "sort": ["IC","anti-CD96"], "scale": {"domain": ["IC","anti-CD96"], "paddingInner": 0.3, "paddingOuter": 0.3, "align": 0.5},
              "axis": {"title": null, "labelAngle": 0, "labelFontSize": 11.5, "domainWidth": 2, "domainColor": "black", "ticks": false, "labelPadding": 4, "labelLineHeight": 13, "labelExpr": "datum.value == 'anti-CD96' ? ['anti-', 'CD96'] : datum.value"}}},
            "layer": [
             {"mark": {"type": "errorbar", "extent": "stderr", "color": "black", "thickness": 2, "ticks": true, "size": 9},
              "encoding": {"y": {"field": "v", "type": "quantitative", "title": "IFN-γ (pg/mL)", "scale": {"domain": [0, 800], "nice": false},
                "axis": {"values": [0,200,400,600,800], "domainWidth": 2, "domainColor": "black", "tickWidth": 2, "tickColor": "black", "tickSize": 4, "labelFontSize": 11.5, "labelPadding": 2, "titleFontSize": 11.5, "titlePadding": 7, "grid": false, "labelFlush": false}}}},
             {"mark": {"type": "bar", "stroke": "black", "strokeWidth": 2},
              "encoding": {"y": {"aggregate": "mean", "field": "v", "type": "quantitative", "title": "IFN-γ (pg/mL)"},
                "fill": {"field": "grp", "type": "nominal", "scale": {"domain": ["IC","anti-CD96"], "range": ["#ffffff", "#d6d6d6"]}, "legend": null}}},
             {"mark": {"type": "point", "shape": "circle", "filled": true, "fill": "#ffffff", "stroke": "black", "strokeWidth": 2, "size": 45, "opacity": 1},
              "encoding": {"y": {"field": "v", "type": "quantitative", "title": "IFN-γ (pg/mL)"}, "xOffset": {"field": "r", "type": "nominal"}}}
            ]
           }
          ],
          "spacing": 31,
          "resolve": {"scale": {"color": "independent", "fill": "independent", "xOffset": "independent"}, "legend": {"color": "independent", "fill": "independent"}}
         }
        ],
        "spacing": 17,
        "resolve": {"scale": {"color": "independent", "fill": "independent", "xOffset": "independent"}, "legend": {"color": "independent", "fill": "independent"}}
       }
      ],
      "spacing": -12,
      "resolve": {"scale": {"color": "independent", "fill": "independent", "xOffset": "independent"}, "legend": {"color": "independent", "fill": "independent"}}
     }
    ],
    "spacing": 34,
    "resolve": {"scale": {"color": "independent", "fill": "independent", "xOffset": "independent"}, "legend": {"color": "independent", "fill": "independent"}}
   }
  ],
  "spacing": -53,
  "resolve": {"scale": {"color": "independent", "fill": "independent", "xOffset": "independent"}, "legend": {"color": "independent", "fill": "independent"}}
 }
]
}
